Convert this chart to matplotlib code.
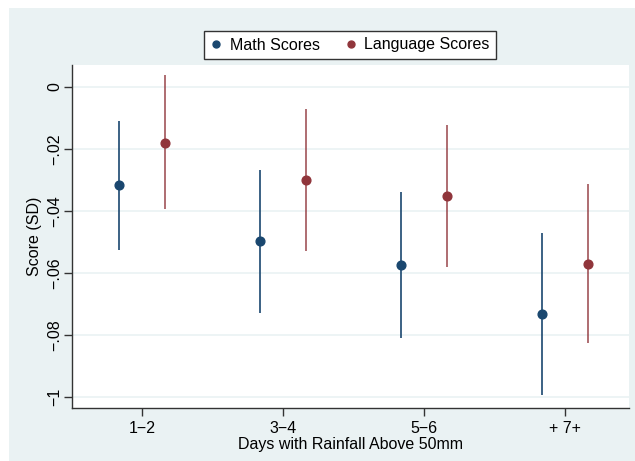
import matplotlib
matplotlib.use("Agg")
import matplotlib.pyplot as plt
from matplotlib.patches import Rectangle
from matplotlib.lines import Line2D

categories = ["1\u22122", "3\u22124", "5\u22126", "+ 7+"]
math_est = [-0.0316, -0.0497, -0.0574, -0.0732]
math_lo = [-0.0526, -0.0729, -0.0810, -0.0994]
math_hi = [-0.0110, -0.0268, -0.0339, -0.0471]
lang_est = [-0.0181, -0.0300, -0.0352, -0.0571]
lang_lo = [-0.0394, -0.0529, -0.0581, -0.0826]
lang_hi = [0.0039, -0.0071, -0.0123, -0.0313]
yticks = [0, -0.02, -0.04, -0.06, -0.08, -0.1]
yticklabels = ["0", "\u2212.02", "\u2212.04", "\u2212.06", "\u2212.08", "\u22121"]

plt.rcParams['font.family'] = ['Liberation Sans', 'DejaVu Sans']
FS = 11.5

W, H = 635, 461
fig = plt.figure(figsize=(W/100, H/100), dpi=100, facecolor='white')
bg = '#EAF2F3'
fig.patches.append(Rectangle((9/W, 0), 1 - 9/W, 1 - 8/H, transform=fig.transFigure,
                             facecolor=bg, edgecolor='none', zorder=-10))

ax = fig.add_axes([72/W, 1 - 408/H, (629-72)/W, (408-65)/H])
ax.set_zorder(1)
ax.set_facecolor('white')

math_c = '#1a476f'
lang_c = '#90353b'
off = 0.163
x = list(range(len(categories)))
xm = [i - off for i in x]
xl = [i + off for i in x]

ax.vlines(xm, math_lo, math_hi, color=math_c, lw=1.2, zorder=3)
ax.vlines(xl, lang_lo, lang_hi, color=lang_c, lw=1.2, zorder=3, alpha=0.85)
ax.plot(xm, math_est, 'o', color=math_c, ms=6.3, zorder=4)
ax.plot(xl, lang_est, 'o', color=lang_c, ms=6.3, zorder=4)

ax.set_xlim(-0.496, 3.454)
ax.set_ylim(-0.1035, 0.0071)
ax.set_yticks(yticks)
ax.set_yticklabels(yticklabels, rotation=90, va='center', fontsize=FS)
ax.set_xticks(x)
ax.set_xticklabels(categories, fontsize=FS)
ax.grid(axis='y', color=bg, lw=1.2, zorder=0)
ax.set_axisbelow(True)
for s in ['top', 'right']:
    ax.spines[s].set_visible(False)
for s in ['left', 'bottom']:
    ax.spines[s].set_color('#333333')
    ax.spines[s].set_linewidth(1.0)
ax.tick_params(axis='both', direction='out', length=6, width=1.0, color='#333333', pad=3)
ax.tick_params(axis='y', pad=1)
ax.set_xlabel("Days with Rainfall Above 50mm", fontsize=FS, labelpad=1)
ax.set_ylabel("Score (SD)", fontsize=FS, labelpad=4)

handles = [Line2D([], [], marker='o', ls='none', color=math_c, ms=5),
           Line2D([], [], marker='o', ls='none', color=lang_c, ms=5)]
leg = fig.legend(handles, ["Math Scores", "Language Scores"], loc='center',
                 bbox_to_anchor=(350/W, 1 - 45/H), ncol=2, frameon=True, fancybox=False,
                 fontsize=FS, handlelength=0.7, handletextpad=0.5, columnspacing=1.6,
                 borderpad=0.4, framealpha=1)
leg.get_frame().set_edgecolor('#333333')
leg.get_frame().set_linewidth(1.0)
leg.get_frame().set_facecolor('white')

fig.savefig("out.png", dpi=100, facecolor='white')
